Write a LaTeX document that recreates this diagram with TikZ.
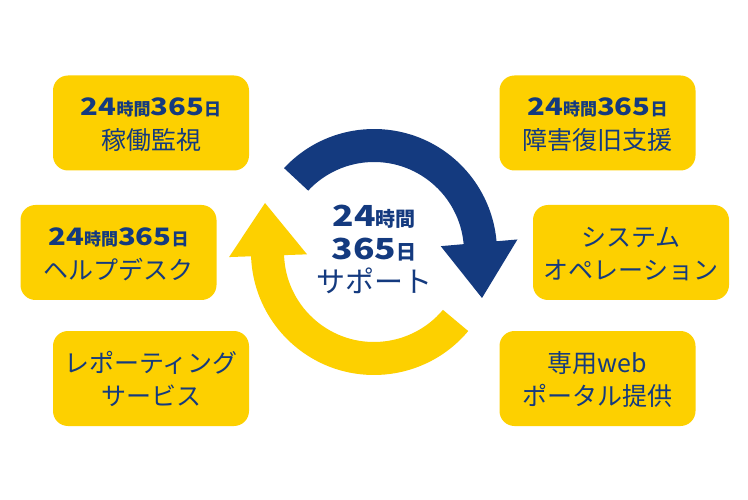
\documentclass[tikz,border=0pt]{standalone}
\usepackage{fontspec}
\setmainfont{Noto Sans CJK JP}
\newfontfamily\jpnum[FakeStretch=1.22]{Noto Sans CJK JP}
\usetikzlibrary{calc}
\definecolor{navy}{HTML}{143A7F}
\definecolor{gold}{HTML}{FDD000}
\newcommand\alldaysmall{{\jpnum\bfseries\fontsize{24}{24}\selectfont 24}{\bfseries\fontsize{17}{17}\selectfont 時間}{\jpnum\bfseries\fontsize{24}{24}\selectfont 365}{\bfseries\fontsize{17}{17}\selectfont 日}}
\tikzset{
  box/.style={fill=gold, rounded corners=15pt, minimum width=196pt, minimum height=95pt, inner sep=0pt},
  txt/.style={anchor=base, text=navy, inner sep=0pt},
  reg/.style={font=\fontsize{25}{25}\selectfont},
}
\begin{document}
\begin{tikzpicture}[x=1pt,y=1pt]
\useasboundingbox (0,0) rectangle (748,499);
\fill[white] (0,0) rectangle (748,499);
% boxes
\node[box] (b1) at (151,376) {};
\node[box] (b2) at (118.5,246.5) {};
\node[box] (b3) at (151,120.5) {};
\node[box] (b4) at (597.5,376) {};
\node[box] (b5) at (631,246.5) {};
\node[box] (b6) at (597.5,120.5) {};
% texts
\node[txt] (b1a) at ($(b1.center)+(0,7)$) {\alldaysmall};
\node[txt,reg] (b1b) at ($(b1.center)+(0,-27)$) {稼働監視};
\node[txt] (b2a) at ($(b2.center)+(0,7)$) {\alldaysmall};
\node[txt,reg] (b2b) at ($(b2.center)+(0,-27)$) {ヘルプデスク};
\node[txt,reg] (b3a) at ($(b3.center)+(0,6)$) {レポーティング};
\node[txt,reg] (b3b) at ($(b3.center)+(0,-27)$) {サービス};
\node[txt] (b4a) at ($(b4.center)+(0,7)$) {\alldaysmall};
\node[txt,reg] (b4b) at ($(b4.center)+(0,-27)$) {障害復旧支援};
\node[txt,reg] (b5a) at ($(b5.center)+(0,6)$) {システム};
\node[txt,reg] (b5b) at ($(b5.center)+(0,-27)$) {オペレーション};
\node[txt,reg] (b6a) at ($(b6.center)+(0,6)$) {専用web};
\node[txt,reg] (b6b) at ($(b6.center)+(0,-27)$) {ポータル提供};
% cycle arrows
\coordinate (c) at (374,247);
\fill[navy] ($(c)+(137:123)$) arc[start angle=137,end angle=5,radius=123]
  -- ($(c)+(5:144)$) -- (482,201) -- ($(c)+(5:67)$) -- ($(c)+(5:90)$)
  arc[start angle=5,end angle=137,radius=90] -- cycle;
\fill[gold] ($(c)+(-40:123)$) arc[start angle=-40,end angle=-178,radius=123]
  -- ($(c)+(-178:145)$) -- (265,296) -- ($(c)+(-178:67)$) -- ($(c)+(-178:90)$)
  arc[start angle=-178,end angle=-40,radius=90] -- cycle;
% center text
\node[txt] (m1) at (374,272) {{\jpnum\bfseries\fontsize{29}{29}\selectfont 24}{\bfseries\fontsize{20}{20}\selectfont 時間}};
\node[txt] (m2) at (374,239) {{\jpnum\bfseries\fontsize{29}{29}\selectfont 365}{\bfseries\fontsize{20}{20}\selectfont 日}};
\node[txt,font=\fontsize{29}{29}\selectfont] (m3) at (374,207) {サポート};
\end{tikzpicture}
\end{document}
